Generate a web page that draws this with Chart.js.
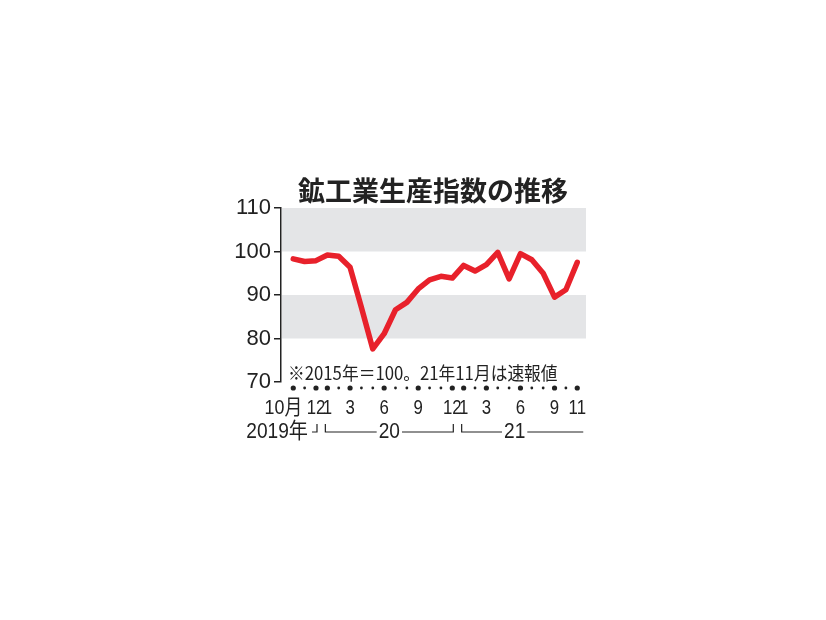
<!DOCTYPE html>
<html>
<head>
<meta charset="utf-8">
<script src="https://cdn.jsdelivr.net/npm/chart.js@4"></script>
<style>
  html, body { margin: 0; padding: 0; background: #fff; }
  #wrap { width: 826px; height: 620px; }
</style>
</head>
<body>
<div id="wrap"><canvas id="chart" width="826" height="620"></canvas></div>
<script>
// 鉱工業生産指数 (2015年=100), 2019年10月〜2021年11月
const months = ['2019-10','2019-11','2019-12','2020-01','2020-02','2020-03','2020-04','2020-05','2020-06',
  '2020-07','2020-08','2020-09','2020-10','2020-11','2020-12','2021-01','2021-02','2021-03','2021-04',
  '2021-05','2021-06','2021-07','2021-08','2021-09','2021-10','2021-11'];
const values = [98.3, 97.7, 97.9, 99.2, 98.9, 96.4, 87.1, 77.6, 81.1, 86.6, 88.3, 91.4, 93.5,
  94.3, 93.9, 96.8, 95.5, 97.0, 99.8, 93.7, 99.5, 98.1, 95.0, 89.5, 91.2, 97.5];
const tickLabels = ['10月','','12','1','','3','','','6','','','9','','','12','1','','3','','','6','','','9','','11'];
const yTicks = [70, 80, 90, 100, 110];
const bands = [[100, 110], [80, 90]];
const yearGroups = [
  { label: '2019年', from: 0, to: 2 },
  { label: '20', from: 3, to: 14 },
  { label: '21', from: 15, to: 25 }
];
const titleText = '鉱工業生産指数の推移';
const noteText = '※2015年＝100。21年11月は速報値';

const ink = '#222';
const numFont = "'Liberation Sans', 'Noto Sans CJK JP', sans-serif";
const jpFont = "'Noto Sans CJK JP', sans-serif";

// text squeezed horizontally, the print font is a narrow one
function narrowText(ctx, text, x, y, align, sx) {
    ctx.save();
    ctx.translate(x, y);
    ctx.scale(sx, 1);
    ctx.textAlign = align;
    ctx.fillText(text, 0, 0);
    ctx.restore();
}

// gray bands behind the line
const bandPlugin = {
    id: 'bands',
    beforeDatasetsDraw(chart) {
        const { ctx, chartArea, scales: { y } } = chart;
        ctx.save();
        ctx.fillStyle = '#e4e5e7';
        bands.forEach(([lo, hi]) => {
            const top = y.getPixelForValue(hi);
            const bottom = y.getPixelForValue(lo);
            ctx.fillRect(chartArea.left + 1, top, chartArea.right - chartArea.left - 1, bottom - top);
        });
        ctx.restore();
    }
};

// title, note, month dots and labels, year brackets
const textPlugin = {
    id: 'texts',
    afterDraw(chart) {
        const { ctx, chartArea, scales: { x, y } } = chart;
        ctx.save();
        ctx.fillStyle = ink;
        ctx.strokeStyle = ink;
        ctx.textBaseline = 'middle';

        ctx.font = "bold 27px " + jpFont;
        narrowText(ctx, titleText, 433, chartArea.top - 17, 'center', 1);

        ctx.font = "18px " + jpFont;
        narrowText(ctx, noteText, chartArea.left + 7, y.getPixelForValue(72.0), 'left', 0.93);

        // dots row
        const dotY = chartArea.bottom + 6;
        months.forEach((m, i) => {
            const px = x.getPixelForValue(i);
            ctx.beginPath();
            ctx.arc(px, dotY, tickLabels[i] ? 2.6 : 1.4, 0, Math.PI * 2);
            ctx.fill();
        });

        // month labels
        ctx.font = "21px " + numFont;
        const labY = chartArea.bottom + 26;
        tickLabels.forEach((t, i) => {
            if (!t) return;
            const px = x.getPixelForValue(i);
            if (i === 0) narrowText(ctx, t, px + 9, labY, 'right', 0.85);
            else narrowText(ctx, t, px, labY, 'center', 0.8);
        });

        // year row
        const rowY = chartArea.bottom + 50;
        ctx.lineWidth = 1.2;
        ctx.font = "22px " + numFont;
        yearGroups.forEach((g, k) => {
            const x0 = x.getPixelForValue(g.from) - 2;
            const x1 = x.getPixelForValue(g.to) + (k === 2 ? 6 : 1);
            if (k === 0) {
                narrowText(ctx, g.label, x1 - 9, rowY, 'right', 0.87);
                ctx.beginPath();
                ctx.moveTo(x1 - 5, rowY);
                ctx.lineTo(x1, rowY);
                ctx.lineTo(x1, rowY - 8);
                ctx.stroke();
                return;
            }
            const cx = k === 1 ? (x0 + x1) / 2 : x0 + 53;
            const tw = ctx.measureText(g.label).width * 0.87;
            narrowText(ctx, g.label, cx, rowY, 'center', 0.87);
            ctx.beginPath();
            ctx.moveTo(x0, rowY - 8);
            ctx.lineTo(x0, rowY);
            ctx.lineTo(cx - tw / 2 - 2, rowY);
            ctx.moveTo(cx + tw / 2 + 2, rowY);
            ctx.lineTo(x1, rowY);
            if (k === 1) ctx.lineTo(x1, rowY - 8);
            ctx.stroke();
        });
        ctx.restore();
    }
};

new Chart(document.getElementById('chart'), {
    type: 'line',
    data: {
        datasets: [{
            label: '鉱工業生産指数',
            data: values.map((v, i) => ({ x: i, y: v })),
            borderColor: '#e8212b',
            borderWidth: 5.5,
            borderJoinStyle: 'round',
            borderCapStyle: 'round',
            pointRadius: 0,
            tension: 0,
            clip: false
        }]
    },
    options: {
        responsive: false,
        animation: false,
        layout: { padding: { left: 0, top: 208, right: 240, bottom: 238 } },
        plugins: { legend: { display: false }, tooltip: { enabled: false } },
        scales: {
            x: {
                type: 'linear',
                min: -1.08,
                max: 25.77,
                display: false
            },
            y: {
                min: 70,
                max: 110,
                afterFit(scale) { scale.width = 281; },
                afterBuildTicks(scale) { scale.ticks = yTicks.map(v => ({ value: v })); },
                border: { display: true, color: ink, width: 1.5 },
                grid: { drawOnChartArea: false, drawTicks: true, tickLength: 7, color: ink, lineWidth: 1.5 },
                ticks: {
                    color: ink,
                    padding: 3,
                    font: { family: numFont, size: 22 }
                }
            }
        }
    },
    plugins: [bandPlugin, textPlugin]
});
</script>
</body>
</html>
